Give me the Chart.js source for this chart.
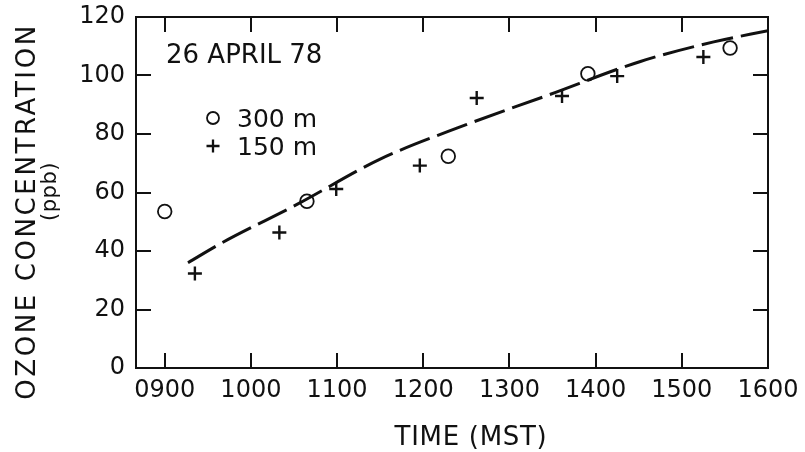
<!DOCTYPE html>
<html><head><meta charset="utf-8">
<script src="https://cdn.jsdelivr.net/npm/chart.js@4.4.1/dist/chart.umd.min.js"></script>
<style>html,body{margin:0;padding:0;background:#fff}#wrap{width:805px;height:452px;position:relative}</style>
</head><body><div id="wrap"><canvas id="c"></canvas></div>
<script>
// ---- data ----
const xTicks = [9, 10, 11, 12, 13, 14, 15, 16];
const xTickLabels = ['0900', '1000', '1100', '1200', '1300', '1400', '1500', '1600'];
const yTicks = [0, 20, 40, 60, 80, 100, 120];
const time300 = [9.00, 10.65, 12.29, 13.91, 15.56];
const ozone300 = [53.5, 57.0, 72.4, 100.6, 109.4];
const time150 = [9.35, 10.33, 10.99, 11.96, 12.62, 13.61, 14.25, 15.25];
const ozone150 = [32.3, 46.3, 61.2, 69.2, 92.3, 93.0, 99.8, 106.3];
const fitTime = [9.27, 9.67, 10.54, 11.50, 12.49, 13.44, 14.52, 15.37, 16.00];
const fitOzone = [36.0, 42.9, 56.0, 71.4, 83.1, 93.2, 104.8, 111.5, 115.3];
const xMin = 8 + 40 / 60, xMax = 16;
const yMin = 0, yMax = 120;
const seriesLabels = ['300 m', '150 m'];
const annotation = '26 APRIL 78';
const xTitle = 'TIME (MST)';
const yTitle = 'OZONE CONCENTRATION';
const ySubTitle = '(ppb)';

const INK = '#111';
const FONT = '"DejaVu Sans", sans-serif';
const pts = (xs, ys) => xs.map((x, i) => ({ x: x, y: ys[i] }));

const framePlugin = {
  id: 'frame',
  beforeDatasetsDraw(chart) {
    const { ctx, chartArea: a, scales: { x, y } } = chart;
    ctx.save();
    ctx.strokeStyle = INK;
    ctx.lineWidth = 2;
    ctx.strokeRect(a.left, a.top, a.right - a.left, a.bottom - a.top);
    const L = 15;
    ctx.beginPath();
    xTicks.forEach(v => {
      const px = Math.round(x.getPixelForValue(v));
      ctx.moveTo(px, a.bottom); ctx.lineTo(px, a.bottom - L);
      ctx.moveTo(px, a.top); ctx.lineTo(px, a.top + L);
    });
    yTicks.forEach(v => {
      const py = Math.round(y.getPixelForValue(v));
      ctx.moveTo(a.left, py); ctx.lineTo(a.left + L, py);
      ctx.moveTo(a.right, py); ctx.lineTo(a.right - L, py);
    });
    ctx.stroke();
    ctx.restore();
  },
  afterDraw(chart) {
    const { ctx, chartArea: a } = chart;
    ctx.save();
    ctx.fillStyle = INK;
    ctx.strokeStyle = INK;
    ctx.textBaseline = 'alphabetic';
    // annotation
    ctx.font = '26px ' + FONT;
    ctx.textAlign = 'left';
    ctx.fillText(annotation, a.left + 30, a.top + 46);
    // legend
    const mx = a.left + 77, tx = a.left + 101;
    const y1 = a.top + 101, y2 = a.top + 129;
    ctx.lineWidth = 1.8;
    ctx.beginPath(); ctx.arc(mx, y1, 6, 0, Math.PI * 2); ctx.stroke();
    ctx.lineWidth = 2.3;
    ctx.beginPath();
    ctx.moveTo(mx - 6.5, y2); ctx.lineTo(mx + 6.5, y2);
    ctx.moveTo(mx, y2 - 6.5); ctx.lineTo(mx, y2 + 6.5);
    ctx.stroke();
    ctx.font = '25px ' + FONT;
    ctx.fillText(seriesLabels[0], tx, y1 + 9);
    ctx.fillText(seriesLabels[1], tx, y2 + 9);
    // x title
    ctx.font = '26px ' + FONT;
    ctx.textAlign = 'center';
    ctx.letterSpacing = '0.7px';
    ctx.fillText(xTitle, (a.left + a.right) / 2 + 19, a.bottom + 77);
    // y titles
    const cy = (a.top + a.bottom) / 2;
    ctx.save();
    ctx.translate(a.left - 101, cy + 19);
    ctx.rotate(-Math.PI / 2);
    ctx.letterSpacing = '2.6px';
    ctx.fillText(yTitle, 0, 0);
    ctx.restore();
    ctx.save();
    ctx.translate(a.left - 80, cy - 1);
    ctx.rotate(-Math.PI / 2);
    ctx.letterSpacing = '0.5px';
    ctx.font = '21px ' + FONT;
    ctx.fillText(ySubTitle, 0, 0);
    ctx.restore();
    ctx.restore();
  }
};

new Chart(document.getElementById('c'), {
  type: 'scatter',
  data: {
    datasets: [
      { label: seriesLabels[0], data: pts(time300, ozone300), showLine: false,
        pointStyle: 'circle', pointRadius: 6.8, pointBorderWidth: 1.8,
        borderColor: INK, backgroundColor: 'rgba(0,0,0,0)' },
      { label: seriesLabels[1], data: pts(time150, ozone150), showLine: false,
        pointStyle: 'cross', pointRadius: 7, pointBorderWidth: 2.4,
        borderColor: INK, backgroundColor: INK },
      { label: 'fit', data: pts(fitTime, fitOzone), showLine: true, pointRadius: 0,
        borderColor: INK, borderWidth: 3, borderDash: [32, 8], fill: false,
        cubicInterpolationMode: 'monotone' }
    ]
  },
  options: {
    responsive: true, maintainAspectRatio: false, animation: false,
    layout: { padding: { top: 17, right: 37, left: 0, bottom: 0 } },
    plugins: { legend: { display: false }, tooltip: { enabled: false } },
    scales: {
      x: {
        type: 'linear', min: xMin, max: xMax,
        afterBuildTicks: s => { s.ticks = xTicks.map(v => ({ value: v })); },
        afterFit: s => { s.height = 84; s.paddingLeft = 0; s.paddingRight = 0; },
        grid: { display: false, drawTicks: false }, border: { display: false },
        ticks: { autoSkip: false, maxRotation: 0, padding: 8, color: INK,
          font: { family: FONT, size: 24 },
          callback: (v, i) => xTickLabels[i] }
      },
      y: {
        min: yMin, max: yMax,
        afterBuildTicks: s => { s.ticks = yTicks.map(v => ({ value: v })); },
        afterFit: s => { s.width = 136; s.paddingTop = 0; s.paddingBottom = 0; },
        grid: { display: false, drawTicks: false }, border: { display: false },
        ticks: { padding: 11, color: INK, font: { family: FONT, size: 24 } }
      }
    }
  },
  plugins: [framePlugin]
});
</script></body></html>
